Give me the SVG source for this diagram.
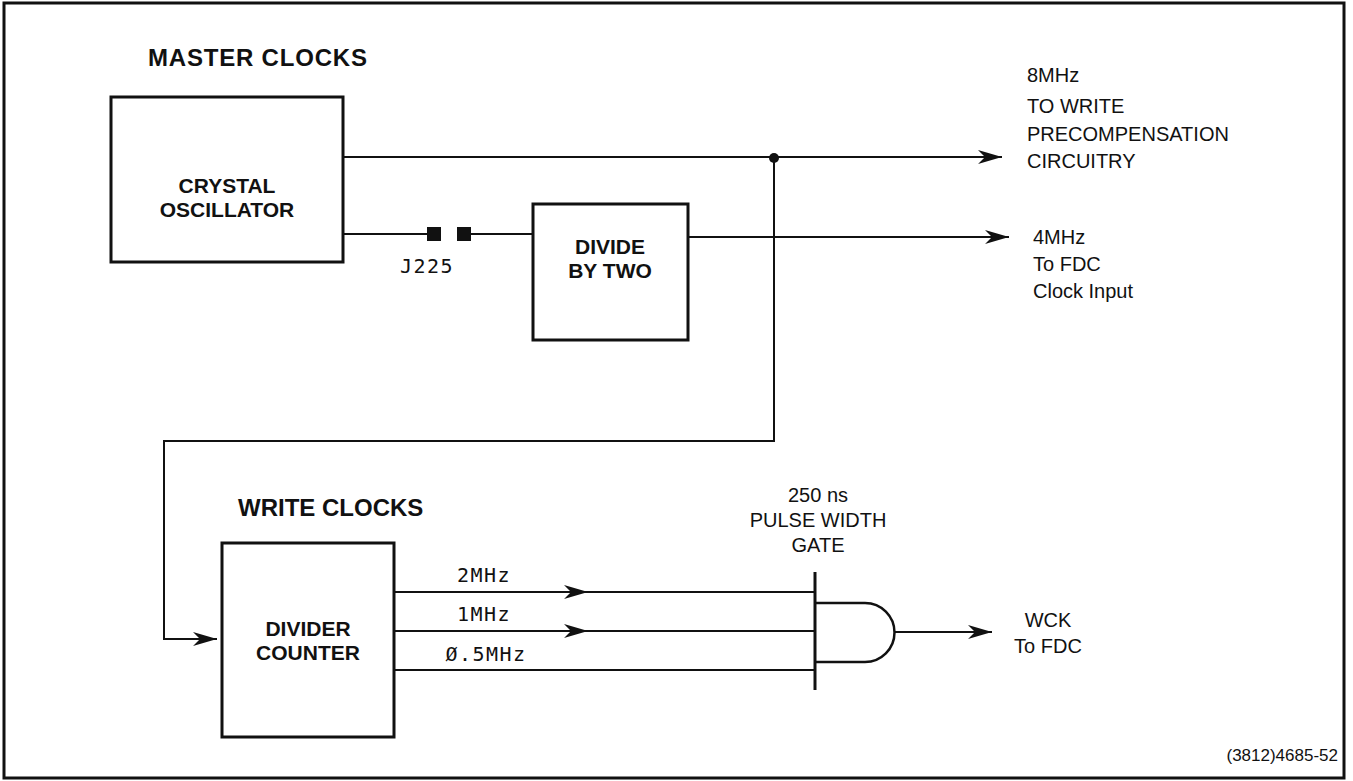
<svg xmlns="http://www.w3.org/2000/svg" width="1353" height="781" viewBox="0 0 1353 781">
<style>
.box{fill:#fff;stroke:#111;stroke-width:3}
.ln{fill:none;stroke:#111;stroke-width:2}
.b{font-family:"Liberation Sans",Arial,sans-serif;font-weight:bold;font-size:21px;fill:#111}
.h{font-family:"Liberation Sans",Arial,sans-serif;font-weight:bold;font-size:24px;fill:#111}
.r{font-family:"Liberation Sans",Arial,sans-serif;font-size:20px;fill:#111}
.m{font-family:"DejaVu Sans Mono","Liberation Mono",monospace;font-size:20px;letter-spacing:1.5px;fill:#111}
.s{font-family:"Liberation Sans",Arial,sans-serif;font-size:17px;fill:#111}
</style>
<defs>
<marker id="arr" viewBox="-24 -8 26 16" refX="0" refY="0" markerWidth="26" markerHeight="16" markerUnits="userSpaceOnUse" orient="auto">
<path d="M-24,-7 L0,0 L-24,7 L-17,0 z" fill="#111"/>
</marker>
</defs>
<rect x="4" y="3" width="1340" height="775" fill="#fff" stroke="#111" stroke-width="3"/>
<text class="h" x="148" y="66" letter-spacing="0.8">MASTER CLOCKS</text>
<text class="h" x="238" y="516">WRITE CLOCKS</text>
<g id="connectors">
<line class="ln" x1="343" y1="157" x2="1002" y2="157" marker-end="url(#arr)"/>
<circle cx="774" cy="158" r="5" fill="#111"/>
<line class="ln" x1="343" y1="234" x2="428" y2="234"/>
<line class="ln" x1="470" y1="234" x2="533" y2="234"/>
<line class="ln" x1="688" y1="237" x2="1009" y2="237" marker-end="url(#arr)"/>
<polyline class="ln" points="774,158 774,441 164,441 164,639 217,639" marker-end="url(#arr)"/>
<line class="ln" x1="394" y1="592" x2="588" y2="592" marker-end="url(#arr)"/>
<line class="ln" x1="588" y1="592" x2="815" y2="592"/>
<line class="ln" x1="394" y1="631" x2="588" y2="631" marker-end="url(#arr)"/>
<line class="ln" x1="588" y1="631" x2="815" y2="631"/>
<line class="ln" x1="394" y1="670" x2="815" y2="670"/>
<line class="ln" x1="894" y1="632" x2="992" y2="632" marker-end="url(#arr)"/>
</g>
<g id="j225">
<rect x="427" y="227" width="14" height="14" fill="#111"/>
<rect x="457" y="227" width="14" height="14" fill="#111"/>
<text class="m" x="427" y="273" text-anchor="middle">J225</text>
</g>
<g id="crystal">
<rect class="box" x="111" y="97" width="232" height="165"/>
<text class="b" x="227" y="193" text-anchor="middle">CRYSTAL</text>
<text class="b" x="227" y="217" text-anchor="middle">OSCILLATOR</text>
</g>
<g id="divide">
<rect class="box" x="533" y="204" width="155" height="136"/>
<text class="b" x="610" y="254" text-anchor="middle">DIVIDE</text>
<text class="b" x="610" y="278" text-anchor="middle">BY TWO</text>
</g>
<g id="divider">
<rect class="box" x="222" y="543" width="172" height="194"/>
<text class="b" x="308" y="636" text-anchor="middle">DIVIDER</text>
<text class="b" x="308" y="660" text-anchor="middle">COUNTER</text>
</g>
<g id="gate">
<line x1="815" y1="572" x2="815" y2="690" stroke="#111" stroke-width="3"/>
<path d="M815,603 L865,603 A29.5,29.5 0 0 1 865,662 L815,662" fill="none" stroke="#111" stroke-width="2.5"/>
<text class="r" x="818" y="502" text-anchor="middle">250 ns</text>
<text class="r" x="818" y="527" text-anchor="middle">PULSE WIDTH</text>
<text class="r" x="818" y="552" text-anchor="middle">GATE</text>
</g>
<g id="labels">
<text class="m" x="484" y="582" text-anchor="middle">2MHz</text>
<text class="m" x="484" y="621" text-anchor="middle">1MHz</text>
<text class="m" x="486" y="661" text-anchor="middle">Ø.5MHz</text>
<text class="r" x="1027" y="82">8MHz</text>
<text class="r" x="1027" y="113">TO WRITE</text>
<text class="r" x="1027" y="141">PRECOMPENSATION</text>
<text class="r" x="1027" y="168">CIRCUITRY</text>
<text class="r" x="1033" y="244">4MHz</text>
<text class="r" x="1033" y="271">To FDC</text>
<text class="r" x="1033" y="298">Clock Input</text>
<text class="r" x="1048" y="627" text-anchor="middle">WCK</text>
<text class="r" x="1048" y="653" text-anchor="middle">To FDC</text>
<text class="s" x="1338" y="761" text-anchor="end">(3812)4685-52</text>
</g>
</svg>
